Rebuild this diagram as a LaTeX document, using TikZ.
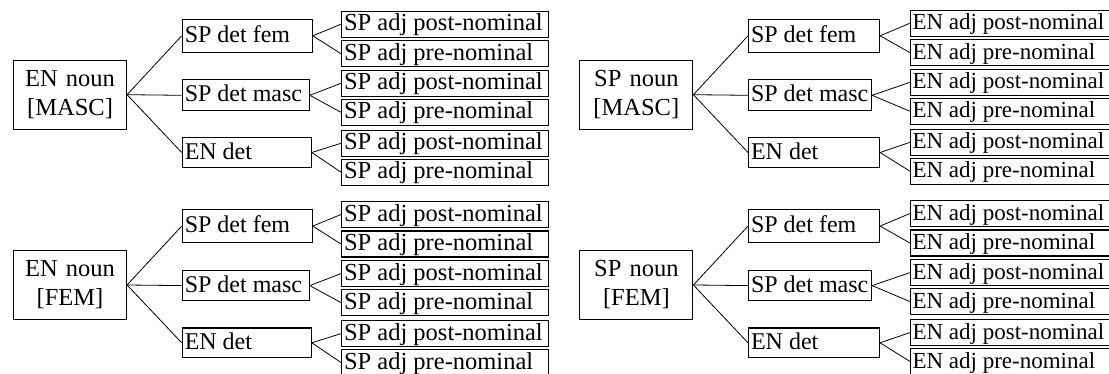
\documentclass[tikz,border=0pt]{standalone}
\usepackage{fontspec}
\setmainfont{Liberation Serif}
\newcommand\lbx[2]{\makebox[#1pt][l]{#2}}
\begin{document}
\begin{tikzpicture}[x=1pt,y=-1pt,
  box/.style={draw, line width=1.1pt, rectangle, anchor=west, inner xsep=2.5pt, inner ysep=0pt,
    text height=15.6pt, text depth=2.5pt, font=\fontsize{24}{29}\selectfont},
  rootbox/.style={draw, line width=1.1pt, rectangle, anchor=west, inner xsep=2.5pt, inner ysep=0pt,
    align=center, text width=108pt, minimum height=69pt, font=\fontsize{24.5}{29}\selectfont},
  leafbox/.style={box, minimum height=26pt},
  spleaf/.style={leafbox, font=\fontsize{24.5}{29}\selectfont},
  enleaf/.style={leafbox, inner xsep=2pt, font=\fontsize{23}{29}\selectfont},
  conn/.style={draw, line width=0.8pt}
]
\useasboundingbox (0,0) rectangle (1109,374);
% ---------- left half ----------
\foreach \q/\dy/\g in {A/0/MASC, B/190.3/FEM} {
  \node[rootbox] (r\q) at (13,94.7+\dy) {EN noun\\{[\g]}};
  \node[box, minimum height=33pt] (f\q) at (181.7,35.8+\dy) {\lbx{125}{SP det fem}};
  \node[box, minimum height=30.7pt] (m\q) at (181.7,95.3+\dy) {\lbx{122}{SP det masc}};
  \node[box, minimum height=29.6pt] (d\q) at (181.7,152.5+\dy) {\lbx{124}{EN det}};
  \foreach \i/\c/\t in {1/24.2/post,2/53.7/pre,3/83.3/post,4/112.3/pre,5/143.3/post,6/172.2/pre}
    \node[spleaf] (l\q\i) at (341,\c+\dy) {\lbx{202}{SP adj \t-nominal}};
  \draw[conn] (r\q.east) -- (f\q.west);
  \draw[conn] (r\q.east) -- (m\q.west);
  \draw[conn] (r\q.east) -- (d\q.west);
  \draw[conn] (f\q.east) -- (l\q1.west);
  \draw[conn] (f\q.east) -- (l\q2.west);
  \draw[conn] (m\q.east) -- (l\q3.west);
  \draw[conn] (m\q.east) -- (l\q4.west);
  \draw[conn] (d\q.east) -- (l\q5.west);
  \draw[conn] (d\q.east) -- (l\q6.west);
}
% ---------- right half ----------
\foreach \q/\dy/\g in {C/0/MASC, D/190.3/FEM} {
  \node[rootbox] (r\q) at (579.3,94.7+\dy) {SP noun\\{[\g]}};
  \node[box, minimum height=33pt] (f\q) at (748,35.8+\dy) {\lbx{126}{SP det fem}};
  \node[box, minimum height=30.7pt] (m\q) at (748,95.3+\dy) {\lbx{118}{SP det masc}};
  \node[box, minimum height=29.6pt] (d\q) at (748,152.5+\dy) {\lbx{126}{EN det}};
  \foreach \i/\c/\t in {1/23.2/post,2/52.7/pre,3/82.3/post,4/111.3/pre,5/142.3/post,6/171.2/pre}
    \node[enleaf] (l\q\i) at (910,\c+\dy) {\lbx{206}{EN adj \t-nominal}};
  \draw[conn] (r\q.east) -- (f\q.west);
  \draw[conn] (r\q.east) -- (m\q.west);
  \draw[conn] (r\q.east) -- (d\q.west);
  \draw[conn] (f\q.east) -- (l\q1.west);
  \draw[conn] (f\q.east) -- (l\q2.west);
  \draw[conn] (m\q.east) -- (l\q3.west);
  \draw[conn] (m\q.east) -- (l\q4.west);
  \draw[conn] (d\q.east) -- (l\q5.west);
  \draw[conn] (d\q.east) -- (l\q6.west);
}
\end{tikzpicture}
\end{document}
